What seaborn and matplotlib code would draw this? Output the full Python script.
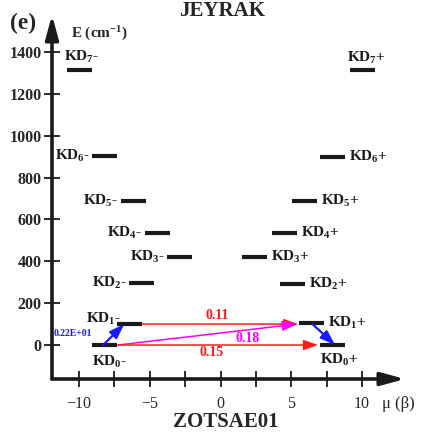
import pandas as pd
import matplotlib.pyplot as plt
import seaborn as sns

# Kramers doublet energies (cm-1) and magnetic moments (mu_B)
minus_mu = [-8.2, -6.45, -5.6, -2.9, -4.5, -6.2, -8.2, -10.0]
minus_E = [0, 100, 295, 421, 536, 689, 904, 1315]
plus_mu = [7.9, 6.4, 5.05, 2.4, 4.5, 5.9, 7.9, 10.0]
plus_E = [0, 105, 292, 421, 536, 689, 900, 1312]
minus_names = [r'KD$_%d$-' % i for i in range(8)]
plus_names = [r'KD$_%d$+' % i for i in range(8)]

# transitions between levels
trans_from_mu = [-8.3, 6.5, -5.55, -7.25, -7.25]
trans_from_E = [0, 100, 100, 0, 0]
trans_to_mu = [-6.8, 8.1, 5.5, 5.4, 6.9]
trans_to_E = [100, 0, 100, 100, 0]
trans_values = ['0.22E+01', '', '0.11', '0.18', '0.15']
trans_label_mu = [-10.42, 0, -0.25, 1.95, -0.6]
trans_label_E = [57, 0, 143, 33, -38]
trans_colors = ['#1a1aff', '#1a1aff', '#ff1a1a', '#ff00ff', '#ff1a1a']

sns.set_theme(style='white')
plt.rcParams['font.family'] = ['Liberation Serif', 'DejaVu Serif']
plt.rcParams['mathtext.fontset'] = 'custom'
plt.rcParams['mathtext.rm'] = 'Liberation Serif:bold'
plt.rcParams['mathtext.it'] = 'Liberation Serif:bold'
plt.rcParams['mathtext.bf'] = 'Liberation Serif:bold'

fig = plt.figure(figsize=(4.22, 4.34), dpi=100)
ax = fig.add_axes([52 / 422, 1 - 379 / 434, 353 / 422, 364 / 434])

levels = pd.DataFrame({'mu': minus_mu + plus_mu, 'E': minus_E + plus_E})
sns.scatterplot(data=levels, x='mu', y='E', marker='_', s=18 ** 2,
                color='k', linewidth=3, ax=ax, zorder=3)

ax.set_xlim(-11.91, 13.04)
ax.set_ylim(-162.4, 1576.7)
for s in ax.spines.values():
    s.set_visible(False)

# axis arrows
arrow_kw = dict(arrowstyle='-|>,head_length=1.1,head_width=0.3', lw=2.6,
                color='k', mutation_scale=13, shrinkA=0, shrinkB=0)
ax.annotate('', xy=(1, 0), xytext=(0, 0), xycoords='axes fraction',
            arrowprops=arrow_kw, annotation_clip=False)
ax.annotate('', xy=(0, 1), xytext=(0, 0), xycoords='axes fraction',
            arrowprops=arrow_kw, annotation_clip=False)

ax.set_yticks(range(0, 1401, 200))
ax.set_yticklabels([str(v) for v in range(0, 1401, 200)], fontweight='bold', fontsize=11.5)
ax.set_xticks([-10, -5, 0, 5, 10])
ax.set_xticklabels(['\u221210', '\u22125', '0', '5', '10'], fontsize=11.5)
ax.set_xticks([-7.5, -2.5, 2.5, 7.5], minor=True)
ax.tick_params(axis='both', which='both', direction='inout', length=11, width=1.3,
               color='k', bottom=True, left=True)
ax.tick_params(axis='x', which='both', pad=7)
ax.tick_params(axis='y', pad=2)
ax.set_xlabel('')
ax.set_ylabel('')

half = 0.88
lab_kw = dict(textcoords='offset points', fontsize=11, fontweight='bold', color='k')
# minus-side labels
for i, (m, e, name) in enumerate(zip(minus_mu, minus_E, minus_names)):
    if i == 0:
        ax.annotate(name, (m - half, e), xytext=(0, -12), ha='left', va='center', **lab_kw)
    elif i == 1:
        ax.annotate(name, (m - half, e), xytext=(3, 4), ha='right', va='center', **lab_kw)
    elif i == 7:
        ax.annotate(name, (m - half, e), xytext=(-1.5, 9), ha='left', va='center', **lab_kw)
    else:
        ax.annotate(name, (m - half, e), xytext=(-1.5, 0), ha='right', va='center', **lab_kw)
# plus-side labels
for i, (m, e, name) in enumerate(zip(plus_mu, plus_E, plus_names)):
    if i == 0:
        ax.annotate(name, (m - half, e), xytext=(0, -11), ha='left', va='center', **lab_kw)
    elif i == 7:
        ax.annotate(name, (m - half, e), xytext=(-1.5, 9), ha='left', va='center', **lab_kw)
    else:
        ax.annotate(name, (m + half, e), xytext=(3, 0), ha='left', va='center', **lab_kw)

# transition arrows and their values
for i in range(len(trans_from_mu)):
    col = trans_colors[i]
    lw = 1.6 if col == '#1a1aff' else 1.1
    ax.annotate('', xy=(trans_to_mu[i], trans_to_E[i]),
                xytext=(trans_from_mu[i], trans_from_E[i]),
                arrowprops=dict(arrowstyle='-|>,head_length=0.8,head_width=0.28',
                                color=col, lw=lw, mutation_scale=11,
                                shrinkA=0, shrinkB=0), zorder=4)
    if trans_values[i]:
        fs = 7 if i == 0 else 10
        ax.text(trans_label_mu[i], trans_label_E[i], trans_values[i], color=col,
                fontsize=fs, fontweight='bold', ha='center', va='center')

fig.text(23 / 422, 1 - 23 / 434, '(e)', fontsize=17, fontweight='bold', ha='center', va='center')
fig.text(222 / 422, 1 - 1 / 434, 'JEYRAK', fontsize=15, fontweight='bold', ha='center', va='top')
fig.text(71 / 422, 1 - 34 / 434, r'E (cm$^{-1}$)', fontsize=11, fontweight='bold', ha='left', va='center')
fig.text(382 / 422, 1 - 404 / 434, '\u03bc (\u03b2)', fontsize=12, ha='left', va='center')
fig.text(226 / 422, 1 - 422 / 434, 'ZOTSAE01', fontsize=15, fontweight='bold', ha='center', va='center')

fig.savefig('out.png', dpi=100)
